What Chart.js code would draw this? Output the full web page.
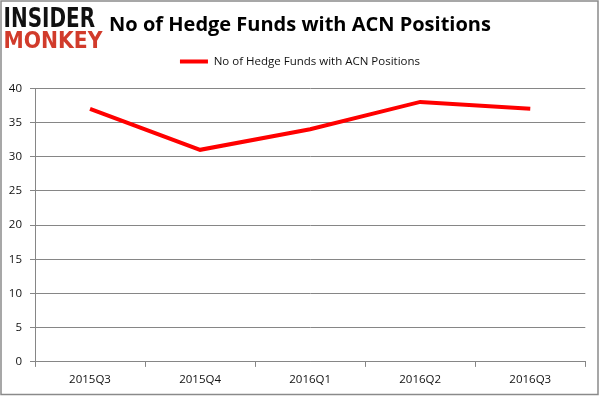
<!DOCTYPE html>
<html>
<head>
<meta charset="utf-8">
<script src="https://cdn.jsdelivr.net/npm/chart.js@4"></script>
<style>
  html, body { margin: 0; padding: 0; background: #fff; }
  #wrap { width: 600px; height: 396px; position: relative; }
</style>
</head>
<body>
<div id="wrap"><canvas id="c" width="600" height="396"></canvas></div>
<script>
const categories = ['2015Q3', '2015Q4', '2016Q1', '2016Q2', '2016Q3'];
const hedgeFunds = [37, 31, 34, 38, 37];
const seriesName = 'No of Hedge Funds with ACN Positions';
const titleText = 'No of Hedge Funds with ACN Positions';
const yTicks = [0, 5, 10, 15, 20, 25, 30, 35, 40];

const frameAndLogo = {
  id: 'frameAndLogo',
  afterDraw(chart) {
    const ctx = chart.ctx;
    ctx.save();
    ctx.strokeStyle = '#8a8a8a';
    ctx.lineWidth = 1.5;
    ctx.strokeRect(1, 1, 597, 393.5);
    // logo
    ctx.textBaseline = 'alphabetic';
    ctx.textAlign = 'left';
    ctx.font = '900 26px "DejaVu Sans"';
    let w = ctx.measureText('INSIDER').width;
    ctx.save();
    ctx.translate(3.5, 26.7);
    ctx.scale(91.5 / w, 19.4 / 19);
    ctx.fillStyle = '#111';
    ctx.fillText('INSIDER', 0, 0);
    ctx.restore();
    w = ctx.measureText('MONKEY').width;
    ctx.save();
    ctx.translate(3.5, 48.3);
    ctx.scale(99 / w, 16.6 / 19);
    ctx.fillStyle = '#d13b2b';
    ctx.fillText('MONKEY', 0, 0);
    ctx.restore();
    ctx.restore();
  }
};

new Chart(document.getElementById('c'), {
  type: 'line',
  data: {
    labels: categories,
    datasets: [{
      label: seriesName,
      data: hedgeFunds,
      borderColor: '#ff0000',
      backgroundColor: '#ff0000',
      borderWidth: 4,
      pointRadius: 0,
      pointHoverRadius: 0,
      tension: 0,
      fill: false
    }]
  },
  options: {
    responsive: false,
    animation: false,
    events: [],
    layout: { padding: { top: 0, left: 0, right: 0, bottom: 3.3 } },
    plugins: {
      title: {
        display: true,
        text: titleText,
        color: '#000',
        font: { family: '"Open Sans"', size: 20, weight: 'bold', lineHeight: 1.2 },
        padding: { top: 13, bottom: 8.75 },
        weight: 2000
      },
      legend: {
        display: true,
        position: 'top',
        weight: 1800,
        labels: {
          color: '#111',
          font: { family: '"Open Sans"', size: 11.5 },
          usePointStyle: true,
          pointStyle: 'line',
          pointStyleWidth: 28,
          padding: 10
        }
      },
      subtitle: {
        display: true,
        text: ' ',
        font: { size: 1, lineHeight: 1 },
        padding: { top: 5, bottom: 5 },
        weight: 1500
      },
      tooltip: { enabled: false }
    },
    scales: {
      x: {
        offset: true,
        grid: {
          offset: true,
          drawOnChartArea: false,
          drawTicks: true,
          tickLength: 5,
          color: '#868686'
        },
        border: { color: '#868686', width: 1 },
        ticks: {
          color: '#111',
          font: { family: '"Open Sans"', size: 11.5 },
          padding: 6,
          maxRotation: 0
        }
      },
      y: {
        min: 0,
        max: 40,
        afterBuildTicks(axis) { axis.ticks = yTicks.map(v => ({ value: v })); },
        afterFit(axis) { axis.width = 35; },
        grid: {
          color: '#868686',
          tickLength: 5,
          drawTicks: true
        },
        border: { color: '#868686', width: 1 },
        ticks: {
          color: '#111',
          font: { family: '"Open Sans"', size: 11.5 },
          padding: 8
        }
      },
      yRightSpace: {
        position: 'right',
        display: true,
        min: 0,
        max: 40,
        grid: { display: false, drawTicks: false },
        border: { display: false },
        ticks: { display: false },
        afterFit(axis) { axis.width = 14.7; }
      }
    }
  },
  plugins: [frameAndLogo]
});
</script>
</body>
</html>
